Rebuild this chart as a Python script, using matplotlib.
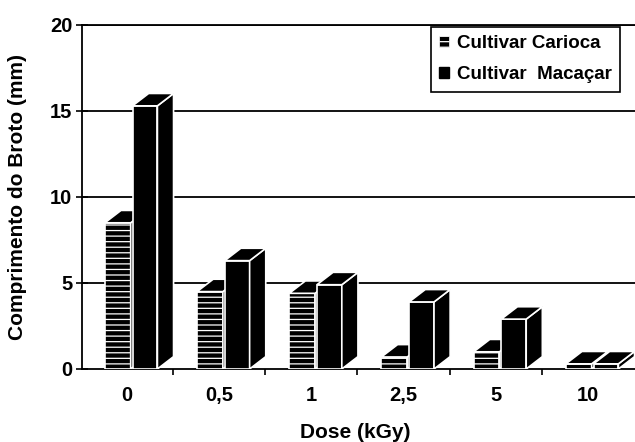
"""
Sprout length of two bean cultivars after gamma irradiation, 3-D style bars.
"""
import matplotlib.pyplot as plt
from matplotlib.patches import Patch, Polygon

plt.rcParams["font.family"] = ["Liberation Sans", "DejaVu Sans"]
plt.rcParams["hatch.linewidth"] = 0.9

doses = ["0", "0,5", "1", "2,5", "5", "10"]
carioca = [8.5, 4.5, 4.4, 0.7, 1.0, 0.3]
macacar = [15.3, 6.3, 4.9, 3.9, 2.9, 0.3]
labels = ["Cultivar Carioca", "Cultivar  Macaçar"]
yticks = [0, 5, 10, 15, 20]

# bar geometry in data units
BAR_W = 0.27
DEPTH_X = 0.175
DEPTH_Y = 0.72


def add_depth(ax, rect, zorder):
    """Top and side faces so a flat bar reads as a block."""
    x0 = rect.get_x()
    x1 = x0 + rect.get_width()
    h = rect.get_height()
    top = Polygon(
        [(x0, h), (x1, h), (x1 + DEPTH_X, h + DEPTH_Y), (x0 + DEPTH_X, h + DEPTH_Y)],
        closed=True, facecolor="black", edgecolor="white", lw=1.2, zorder=zorder,
    )
    side = Polygon(
        [(x1, 0), (x1 + DEPTH_X, DEPTH_Y), (x1 + DEPTH_X, h + DEPTH_Y), (x1, h)],
        closed=True, facecolor="black", edgecolor="white", lw=1.2, zorder=zorder,
    )
    ax.add_patch(side)
    ax.add_patch(top)


fig = plt.figure(figsize=(6.35, 4.42), dpi=100)
ax = fig.add_axes([82 / 635, 1 - 369 / 442, 553 / 635, 344 / 442])

pos = list(range(len(doses)))

for i in pos:
    zc = 3 + 2 * i
    bc = ax.bar(i - 0.24, carioca[i], width=BAR_W + 0.01, align="edge",
                color="black", edgecolor="white", hatch="---", lw=1.2, zorder=zc)
    add_depth(ax, bc.patches[0], zc)
    bm = ax.bar(i + 0.06, macacar[i], width=BAR_W, align="edge",
                color="black", edgecolor="white", lw=1.2, zorder=zc + 1)
    add_depth(ax, bm.patches[0], zc + 1)

ax.set_xlim(-0.488, 5.51)
ax.set_ylim(0, 20)

ax.set_xticks(pos)
ax.set_xticklabels(doses)
ax.set_xticks([p + 0.5 for p in pos[:-1]], minor=True)
ax.tick_params(axis="x", which="major", length=0, pad=12, labelsize=14.5)
ax.tick_params(axis="x", which="minor", length=4, width=1.2, direction="out")

ax.set_yticks(yticks)
ax.tick_params(axis="y", direction="inout", length=8, width=1.2, pad=3, labelsize=14.5)
for lbl in ax.get_xticklabels() + ax.get_yticklabels():
    lbl.set_fontweight("bold")

for y in yticks[1:]:
    ax.axhline(y, color="black", lw=1.3, zorder=1)

ax.spines["right"].set_visible(False)
for side in ("left", "bottom", "top"):
    ax.spines[side].set_linewidth(1.3)

ax.set_ylabel("Comprimento do Broto (mm)", fontsize=15, fontweight="bold", va="center")
ax.yaxis.set_label_coords(-0.116, 0.5)
ax.set_xlabel("Dose (kGy)", fontsize=15, fontweight="bold", va="center")
ax.xaxis.set_label_coords(0.494, -0.186)

handles = [
    Patch(facecolor="black", edgecolor="white", hatch="---", lw=0.5),
    Patch(facecolor="black", edgecolor="black"),
]
leg = ax.legend(
    handles, labels, loc="upper right", bbox_to_anchor=(0.973, 0.995),
    borderaxespad=0, handlelength=0.55, handleheight=0.5,
    handletextpad=0.4, labelspacing=0.75, borderpad=0.45,
    fancybox=False, framealpha=1, edgecolor="black",
    prop={"size": 13.5, "weight": "bold"},
)
leg.get_frame().set_linewidth(1.2)
leg.set_zorder(20)

plt.savefig("out.png", dpi=100)
plt.close()
